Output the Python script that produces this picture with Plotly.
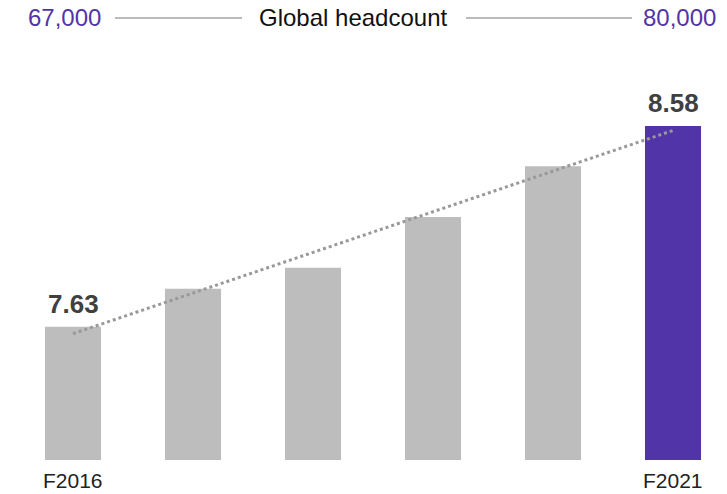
import numpy as np
import plotly.graph_objects as go

years = ["F2016", "F2017", "F2018", "F2019", "F2020", "F2021"]
values = [7.63, 7.81, 7.91, 8.15, 8.39, 8.58]
labelled = ["7.63", "", "", "", "", "8.58"]
shown_ticks = ["F2016", "F2021"]
header_left = "67,000"
header_mid = "Global headcount"
header_right = "80,000"

W, H = 727, 494
plot_h = 460.5
base_val = 7.0
px_per_unit = 211.6
ymax = base_val + plot_h / px_per_unit

GRAY = "#bdbdbd"
PURPLE = "#5234a9"
colors = [GRAY] * (len(years) - 1) + [PURPLE]

xi = np.arange(len(years))
slope, intercept = np.polyfit(xi, values, 1)
trend_y = [intercept, intercept + slope * xi[-1]]

fig = go.Figure()
fig.add_trace(go.Bar(
    x=years, y=[v - base_val for v in values], base=base_val,
    marker=dict(color=colors, line=dict(width=0)),
    width=0.467, hoverinfo="skip",
))
fig.add_trace(go.Scatter(
    x=[years[0], years[-1]], y=trend_y, mode="lines",
    line=dict(color="#999999", width=3, dash="dot"), hoverinfo="skip",
))

for yr, v, t in zip(years, values, labelled):
    if t:
        fig.add_annotation(x=yr, y=v, text=f"<b>{t}</b>", showarrow=False,
                           xanchor="center", yanchor="bottom", yshift=6,
                           font=dict(family="Arial, Liberation Sans", size=26, color="#404040"))

for yr in shown_ticks:
    fig.add_annotation(x=yr, y=0, yref="paper", text=yr, showarrow=False,
                       xanchor="center", yanchor="top", yshift=-7,
                       font=dict(family="Arial, Liberation Sans", size=21, color="#222222"))

hy = 1 - 18 / plot_h
def px(x):
    return x / W

for xc, txt, col in [(64.5, header_left, PURPLE), (353, header_mid, "#111111"),
                     (679, header_right, PURPLE)]:
    fig.add_annotation(x=px(xc), y=hy, xref="paper", yref="paper", text=txt,
                       showarrow=False, xanchor="center", yanchor="middle",
                       font=dict(family="Arial, Liberation Sans", size=24, color=col))
for x0, x1 in [(115, 242), (466, 632)]:
    fig.add_shape(type="line", xref="paper", yref="paper", x0=px(x0), x1=px(x1),
                  y0=hy, y1=hy, line=dict(color="#bbbbbb", width=2))

fig.update_layout(
    width=W, height=H,
    margin=dict(l=0, r=0, t=0, b=H - plot_h),
    paper_bgcolor="white", plot_bgcolor="white",
    showlegend=False,
    xaxis=dict(range=[-73 / 120, (W - 73) / 120], showticklabels=False,
               showgrid=False, zeroline=False, showline=False, fixedrange=True),
    yaxis=dict(range=[base_val, ymax], visible=False, fixedrange=True),
)
fig.write_html("out.html")
